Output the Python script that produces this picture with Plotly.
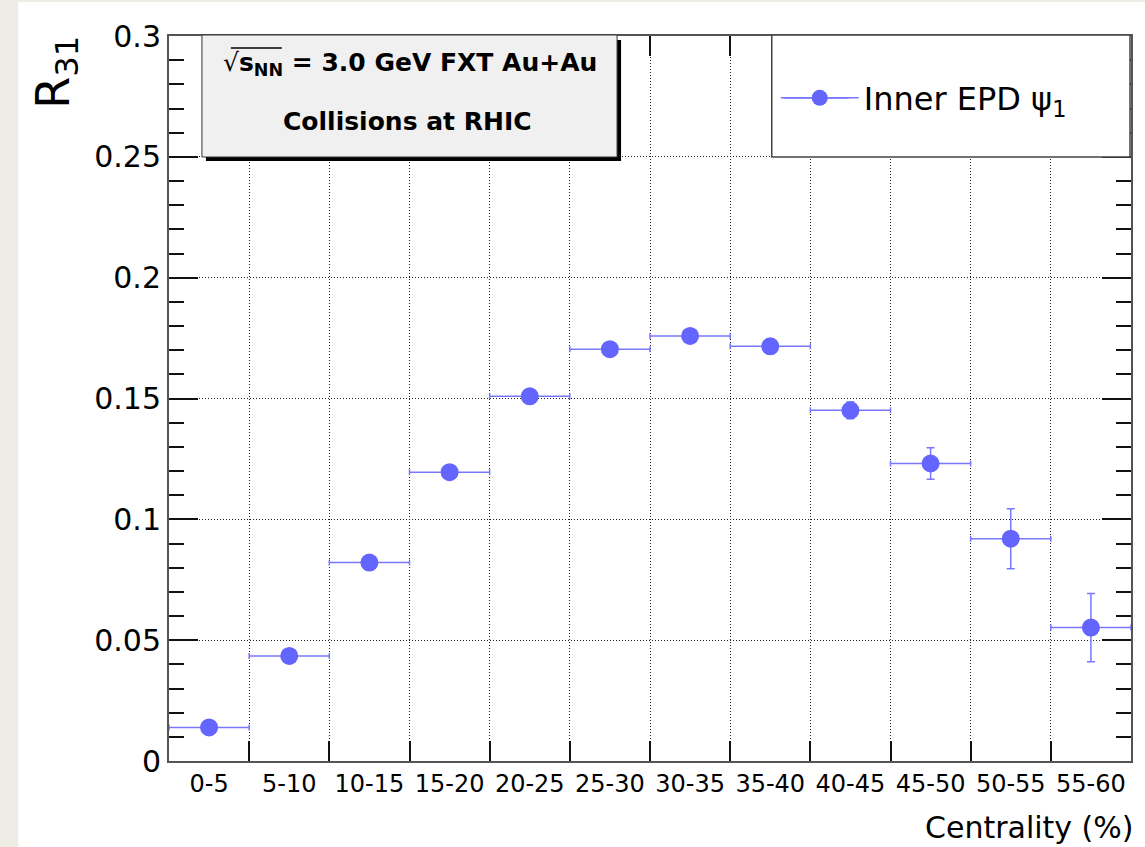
import plotly.graph_objects as go

# ---- data ----
categories = ["0-5", "5-10", "10-15", "15-20", "20-25", "25-30",
              "30-35", "35-40", "40-45", "45-50", "50-55", "55-60"]
bin_low = [0, 5, 10, 15, 20, 25, 30, 35, 40, 45, 50, 55]
bin_high = [5, 10, 15, 20, 25, 30, 35, 40, 45, 50, 55, 60]
r31 = [0.0139, 0.0435, 0.0821, 0.1195, 0.1509, 0.1704,
       0.1759, 0.1716, 0.1451, 0.1231, 0.0920, 0.0552]
r31_err = [0.0010, 0.0012, 0.0015, 0.0018, 0.0020, 0.0022,
           0.0025, 0.0030, 0.0035, 0.0065, 0.0124, 0.0141]
series_name = "Inner EPD ψ<sub>1</sub>"

bin_center = [(lo + hi) / 2 for lo, hi in zip(bin_low, bin_high)]
bin_half = [(hi - lo) / 2 for lo, hi in zip(bin_low, bin_high)]
bin_edges = bin_low + [bin_high[-1]]

# ---- layout geometry ----
W, H = 1145, 847
L, R, T, B = 169, 12, 36, 86
PW, PH = W - L - R, H - T - B


def fx(px):
    return (px - L) / PW


def fy(py):
    return (H - B - py) / PH


FONT = "DejaVu Sans"
BLUE = "#6464ff"
ERR = "#7878ff"

fig = go.Figure()
fig.add_trace(go.Scatter(
    x=bin_center, y=r31, mode="markers", name=series_name,
    marker=dict(color=BLUE, size=18, line=dict(width=0)),
    error_y=dict(type="data", array=r31_err, color=ERR, thickness=1.5, width=4),
    error_x=dict(type="data", array=bin_half, color=ERR, thickness=1.5, width=3),
    showlegend=False, legendgroup="s",
))
# legend entry (marker key; the longer key line is added as a shape)
fig.add_trace(go.Scatter(
    x=[None], y=[None], mode="lines+markers", name=series_name,
    marker=dict(color=BLUE, size=18), line=dict(color=ERR, width=1.5),
    showlegend=True, legendgroup="s",
))

LEG_Y = 98
shapes = [
    # white canvas over beige page
    dict(type="rect", xref="paper", yref="paper", x0=fx(18), x1=fx(1160),
         y0=fy(870), y1=fy(2), fillcolor="white", line=dict(width=0), layer="below"),
    # text box shadow
    dict(type="rect", xref="paper", yref="paper", x0=fx(206), x1=fx(622),
         y0=fy(161), y1=fy(40), fillcolor="black", line=dict(width=0)),
    # text box
    dict(type="rect", xref="paper", yref="paper", x0=fx(202), x1=fx(618),
         y0=fy(157), y1=fy(35), fillcolor="#f0f0f0", line=dict(color="#333", width=1)),
    # sqrt overline
    dict(type="line", xref="paper", yref="paper", x0=fx(231), x1=fx(282),
         y0=fy(48), y1=fy(48), line=dict(color="black", width=1.5)),
    # legend box
    dict(type="rect", xref="paper", yref="paper", x0=fx(773), x1=fx(1132),
         y0=fy(157), y1=fy(35), fillcolor="white", line=dict(color="#444", width=1.5)),
    # legend key line
    dict(type="line", xref="paper", yref="paper", x0=fx(785), x1=fx(850),
         y0=fy(LEG_Y), y1=fy(LEG_Y), line=dict(color=ERR, width=1.5)),
]

annotations = [
    dict(xref="paper", yref="paper", x=fx(410), y=fy(64), xanchor="center", yanchor="middle",
         text="√<b>s<sub>NN</sub> = 3.0 GeV FXT Au+Au</b>",
         showarrow=False, font=dict(family=FONT, size=25, color="black")),
    dict(xref="paper", yref="paper", x=fx(408), y=fy(122), xanchor="center", yanchor="middle",
         text="<b>Collisions at RHIC</b>",
         showarrow=False, font=dict(family=FONT, size=25, color="black")),
    dict(xref="paper", yref="paper", x=fx(1138), y=fy(827), xanchor="right", yanchor="middle",
         text="Centrality (%)", showarrow=False, font=dict(family=FONT, size=30, color="black")),
    dict(xref="paper", yref="paper", x=fx(56), y=fy(34), xanchor="center", yanchor="top",
         text="R<sub>31</sub>", textangle=-90, showarrow=False,
         font=dict(family=FONT, size=46, color="black")),
]

fig.update_layout(
    width=W, height=H,
    margin=dict(l=L, r=R, t=T, b=B, pad=0),
    paper_bgcolor="#eeece5",
    plot_bgcolor="rgba(0,0,0,0)",
    font=dict(family=FONT, color="black"),
    shapes=shapes,
    annotations=annotations,
    legend=dict(x=fx(777), y=fy(LEG_Y), xanchor="left", yanchor="middle",
                bgcolor="rgba(0,0,0,0)", borderwidth=0, itemwidth=78,
                font=dict(family=FONT, size=32, color="black")),
    xaxis=dict(
        range=[bin_edges[0], bin_edges[-1]],
        tickmode="array", tickvals=bin_center, ticktext=categories,
        ticks="inside", ticklen=0, tickwidth=0,
        minor=dict(tickmode="array", tickvals=bin_edges, ticks="inside", ticklen=20,
                   tickwidth=1.5, tickcolor="#111", showgrid=True,
                   gridcolor="#222", gridwidth=1, griddash="1px,2px"),
        showline=True, linecolor="#555", linewidth=2, mirror="allticks",
        showgrid=False,
        tickfont=dict(family=FONT, size=24, color="black"),
        zeroline=False, fixedrange=True,
    ),
    yaxis=dict(
        range=[0, 0.3], dtick=0.05, tick0=0,
        ticks="inside", ticklen=29, tickwidth=1.5, tickcolor="#111",
        minor=dict(dtick=0.01, ticks="inside", ticklen=15, tickwidth=1.5,
                   tickcolor="#111", showgrid=False),
        showline=True, linecolor="#555", linewidth=2, mirror="allticks",
        showgrid=True, gridcolor="#222", gridwidth=1, griddash="1px,2px",
        tickfont=dict(family=FONT, size=30, color="black"),
        zeroline=False, fixedrange=True,
    ),
)

fig.write_html("out.html")
